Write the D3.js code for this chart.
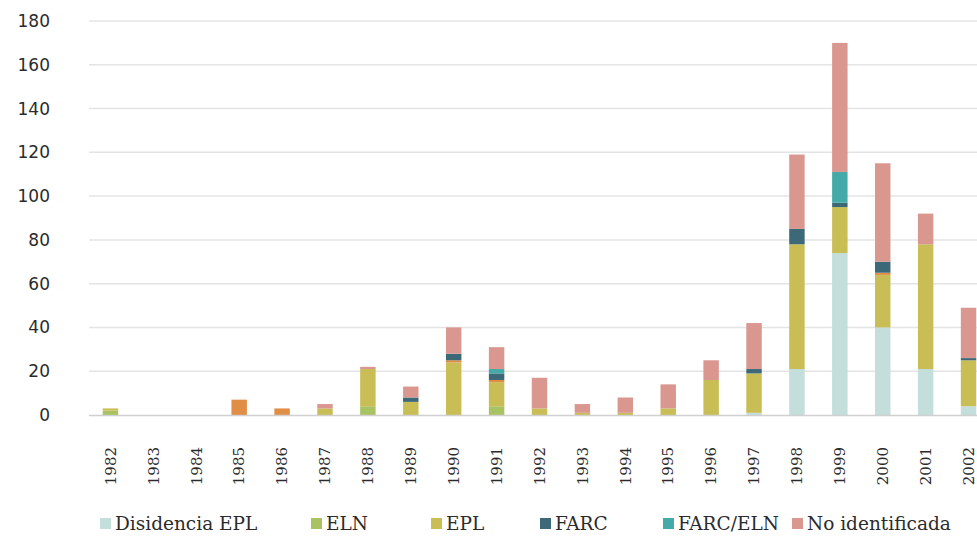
<!DOCTYPE html>
<html>
<head>
<meta charset="utf-8">
<script src="https://cdn.jsdelivr.net/npm/d3@7"></script>
<style>
  html, body { margin: 0; padding: 0; background: #fff; }
  svg { display: block; }
</style>
</head>
<body>
<div class="chart-box"></div>
<script>
// datos
var years = ["1982","1983","1984","1985","1986","1987","1988","1989","1990","1991","1992",
             "1993","1994","1995","1996","1997","1998","1999","2000","2001","2002"];

var disidenciaEPL  = [0,0,0,0,0,0,0,0,0,0,0, 0,0,0,0,1,21,74,40,21,4];
var eln            = [2,0,0,0,0,0,4,0,0,4,0, 0,0,0,0,0,0,0,0,0,0];
var epl            = [1,0,0,0,0,3,17,6,24,11,3, 1,1,3,16,18,57,21,24,57,21];
var otros          = [0,0,0,7,3,0,0,0,1,1,0, 0,0,0,0,0,0,0,1,0,0];
var farc           = [0,0,0,0,0,0,0,2,3,3,0, 0,0,0,0,2,7,2,5,0,1];
var farcEln        = [0,0,0,0,0,0,0,0,0,2,0, 0,0,0,0,0,0,14,0,0,0];
var noIdentificada = [0,0,0,0,0,2,1,5,12,10,14, 4,7,11,9,21,34,59,45,14,23];

var yTicks = [0,20,40,60,80,100,120,140,160,180];

var series = [
  {key: "Disidencia EPL", values: disidenciaEPL, color: "#c3dedb", legend: true},
  {key: "ELN", values: eln, color: "#a9c262", legend: true},
  {key: "EPL", values: epl, color: "#c9bd55", legend: true},
  {key: "Otros", values: otros, color: "#e08d45", legend: false},
  {key: "FARC", values: farc, color: "#3c6878", legend: true},
  {key: "FARC/ELN", values: farcEln, color: "#43aaa7", legend: true},
  {key: "No identificada", values: noIdentificada, color: "#d9978f", legend: true}
];

var width = 977, height = 549;
var margin = {top: 21, left: 89, bottom: 134};
var plotRight = 990;

var rows = years.map(function(y, i) {
  var r = {year: y};
  series.forEach(function(s) { r[s.key] = s.values[i]; });
  return r;
});

var stack = d3.stack().keys(series.map(function(s) { return s.key; }));
var layers = stack(rows);

var x = d3.scaleBand()
    .domain(years)
    .range([margin.left, plotRight])
    .paddingInner(0.64)
    .paddingOuter(0.32);

var y = d3.scaleLinear()
    .domain([0, 180])
    .range([height - margin.bottom, margin.top]);

var svg = d3.select(".chart-box").append("svg")
    .attr("width", width)
    .attr("height", height);

// lineas de fondo
svg.append("g")
  .selectAll("line")
  .data(yTicks.filter(function(d) { return d > 0; }))
  .enter().append("line")
    .attr("x1", margin.left)
    .attr("x2", width)
    .attr("y1", function(d) { return y(d); })
    .attr("y2", function(d) { return y(d); })
    .attr("stroke", "#e4e4e4")
    .attr("stroke-width", 1.5);

svg.append("g")
  .selectAll("text")
  .data(yTicks)
  .enter().append("text")
    .attr("x", 50)
    .attr("y", function(d) { return y(d); })
    .attr("dy", "0.35em")
    .attr("text-anchor", "end")
    .attr("font-family", "DejaVu Sans")
    .attr("font-size", 17)
    .attr("fill", "#2b2b2b")
    .text(function(d) { return d; });

// barras apiladas
svg.append("g")
  .selectAll("g")
  .data(layers)
  .enter().append("g")
    .attr("fill", function(d, i) { return series[i].color; })
  .selectAll("rect")
  .data(function(d) { return d; })
  .enter().append("rect")
    .attr("x", function(d) { return x(d.data.year); })
    .attr("width", x.bandwidth())
    .attr("y", function(d) { return y(d[1]); })
    .attr("height", function(d) { return y(d[0]) - y(d[1]); });

// eje x
svg.append("line")
    .attr("x1", margin.left)
    .attr("x2", width)
    .attr("y1", y(0) + 0.5)
    .attr("y2", y(0) + 0.5)
    .attr("stroke", "#d0d0d0")
    .attr("stroke-width", 1.5);

svg.append("g")
  .selectAll("text")
  .data(years)
  .enter().append("text")
    .attr("transform", function(d) {
      return "translate(" + (x(d) + x.bandwidth() / 2) + "," + 447 + ") rotate(-90)";
    })
    .attr("dy", "0.35em")
    .attr("text-anchor", "end")
    .attr("font-family", "DejaVu Serif")
    .attr("font-size", 15)
    .attr("fill", "#2b2b2b")
    .text(function(d) { return d; });

// leyenda
var legendX = [115, 326, 446, 555, 678, 807];
var legend = svg.append("g")
  .selectAll("g")
  .data(series.filter(function(s) { return s.legend; }))
  .enter().append("g")
    .attr("transform", function(d, i) { return "translate(" + legendX[i] + ",524)"; });

legend.append("rect")
    .attr("x", -15)
    .attr("y", -6)
    .attr("width", 11)
    .attr("height", 11)
    .attr("fill", function(d) { return d.color; });

legend.append("text")
    .attr("x", 0)
    .attr("y", 0)
    .attr("dy", "0.35em")
    .attr("font-family", "DejaVu Serif")
    .attr("font-size", 18.5)
    .attr("fill", "#2b2b2b")
    .text(function(d) { return d.key; });
</script>
</body>
</html>
